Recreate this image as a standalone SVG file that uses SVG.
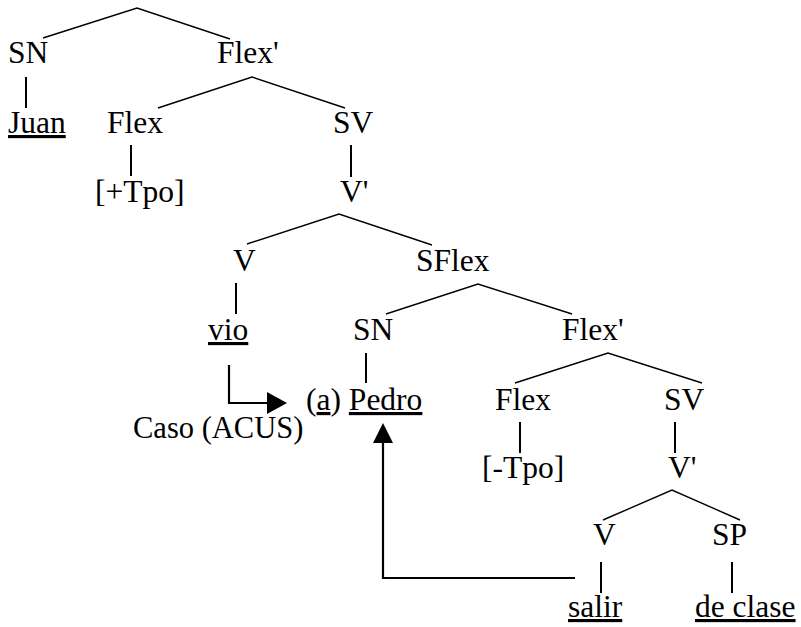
<svg xmlns="http://www.w3.org/2000/svg" width="801" height="627" viewBox="0 0 801 627">
<style>
text{font-size:31.5px;fill:#000}
.u{text-decoration:underline}
.e{stroke:#000;stroke-width:1.4;fill:none}
.v{stroke:#000;stroke-width:2;fill:none}
.a{stroke:#000;stroke-width:2.2;fill:none}
</style>
<rect width="801" height="627" fill="#fff"/>
<g id="connectors">
<polyline class="e" points="43,38 137,8 230,39"/>
<line class="v" x1="26" y1="77" x2="26" y2="108"/>
<polyline class="e" points="158,108 252,77 345,108"/>
<line class="v" x1="131" y1="145" x2="131" y2="176"/>
<line class="v" x1="351" y1="145" x2="351" y2="177"/>
<polyline class="e" points="247,244 339,214 432,245"/>
<line class="v" x1="236" y1="283" x2="236" y2="314"/>
<polyline class="e" points="386,314 478,284 572,314"/>
<line class="v" x1="366" y1="353" x2="366" y2="383"/>
<polyline class="e" points="515,383 608,353 702,383"/>
<line class="v" x1="520" y1="422" x2="520" y2="453"/>
<line class="v" x1="675" y1="422" x2="675" y2="453"/>
<polyline class="e" points="603,520 672,490 740,520"/>
<line class="v" x1="601" y1="562" x2="601" y2="593"/>
<line class="v" x1="732" y1="562" x2="732" y2="593"/>
<polyline class="a" points="229,365 229,403 268,403"/>
<polygon points="267,392 287,403 267,414" fill="#000"/>
<polyline class="a" points="575,578 383,578 383,442"/>
<polygon points="373,443 383,423 393,443" fill="#000"/>
</g>
<g font-family="'Liberation Serif', 'Times New Roman', Tinos, 'DejaVu Serif', serif">
<g id="n-sn1"><text x="8" y="63">SN</text></g>
<g id="n-flexbar1"><text x="217" y="63">Flex'</text></g>
<g id="n-juan"><text x="8" y="133" class="u">Juan</text></g>
<g id="n-flex1"><text x="107" y="133">Flex</text></g>
<g id="n-sv1"><text x="333" y="133">SV</text></g>
<g id="n-tpo1"><text x="95" y="202">[+Tpo]</text></g>
<g id="n-vbar1"><text x="340" y="202">V'</text></g>
<g id="n-v1"><text x="233" y="271">V</text></g>
<g id="n-sflex"><text x="416" y="271">SFlex</text></g>
<g id="n-vio"><text x="208" y="340" class="u">vio</text></g>
<g id="n-sn2"><text x="353" y="340">SN</text></g>
<g id="n-flexbar2"><text x="562" y="340">Flex'</text></g>
<g id="n-pedro"><text x="306" y="410">(<tspan class="u">a</tspan>) <tspan class="u">Pedro</tspan></text></g>
<g id="n-caso"><text x="133" y="438" style="font-size:30.5px">Caso (ACUS)</text></g>
<g id="n-flex2"><text x="495" y="410">Flex</text></g>
<g id="n-sv2"><text x="664" y="410">SV</text></g>
<g id="n-tpo2"><text x="482" y="478">[-Tpo]</text></g>
<g id="n-vbar2"><text x="668" y="478">V'</text></g>
<g id="n-v2"><text x="593" y="545">V</text></g>
<g id="n-sp"><text x="712" y="545">SP</text></g>
<g id="n-salir"><text x="568" y="617" class="u">salir</text></g>
<g id="n-declase"><text x="695" y="617" class="u">de clase</text></g>
</g>
</svg>
